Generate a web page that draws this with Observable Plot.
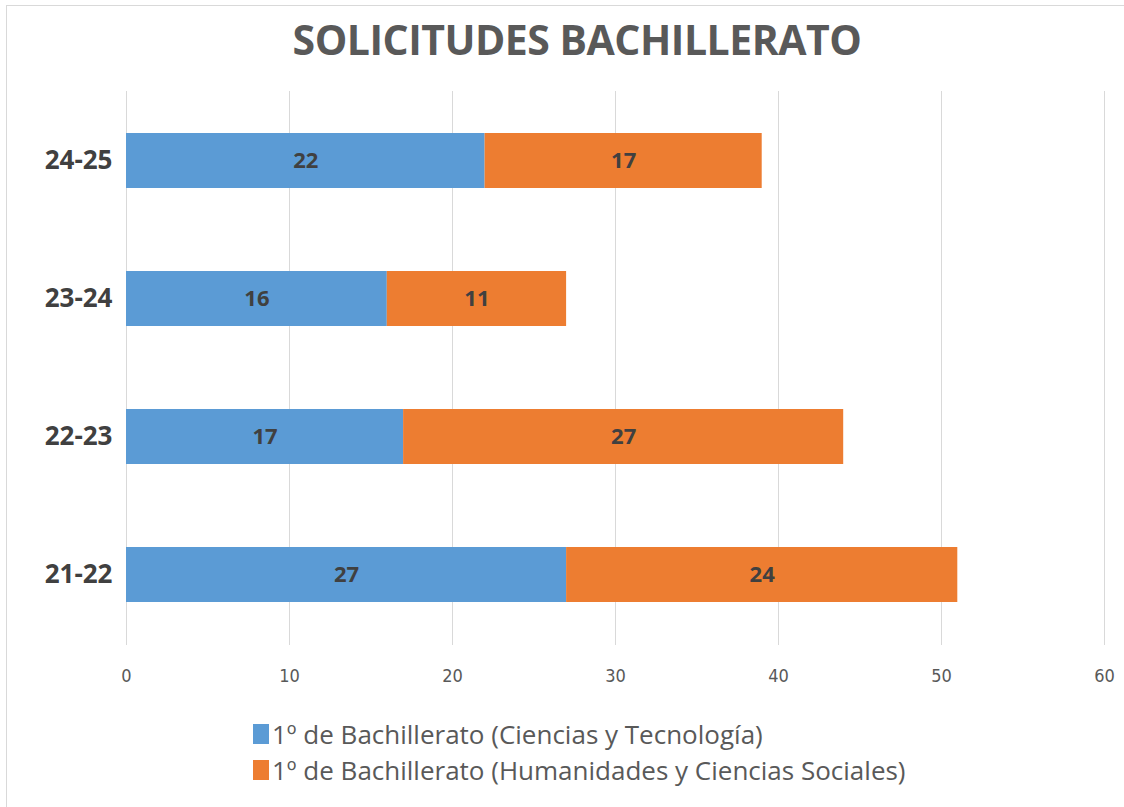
<!DOCTYPE html>
<html>
<head>
<meta charset="utf-8">
<script src="https://cdn.jsdelivr.net/npm/d3@7"></script>
<script src="https://cdn.jsdelivr.net/npm/@observablehq/plot@0.6"></script>
<style>
  html, body { margin: 0; padding: 0; background: #fff; }
  #wrap { position: relative; width: 1124px; height: 807px; overflow: hidden; background: #fff; }
  #frame { position: absolute; left: 6px; top: 5px; width: 1130px; height: 820px; border: 1px solid #d9d9d9; box-sizing: border-box; }
  #title { position: absolute; left: 0; width: 1154px; top: 11px; text-align: center;
    font-family: "Open Sans", "DejaVu Sans", sans-serif; font-weight: 700; font-size: 41px; color: #595959; letter-spacing: -0.5px; }
  #chart { position: absolute; left: 0; top: 0; }
  #legend { position: absolute; left: 253px; top: 716px; font-family: "Open Sans", "DejaVu Sans", sans-serif; font-size: 26px; color: #595959; }
  .item { display: flex; align-items: center; height: 36px; }
  .sw { width: 16px; height: 20px; margin-right: 3px; }
</style>
</head>
<body>
<div id="wrap">
  <div id="frame"></div>
  <div id="chart"></div>
  <div id="title"></div>
  <div id="legend"></div>
</div>
<script>
const titleText = "SOLICITUDES BACHILLERATO";
const years = ["24-25", "23-24", "22-23", "21-22"];
const seriesNames = ["1º de Bachillerato (Ciencias y Tecnología)", "1º de Bachillerato (Humanidades y Ciencias Sociales)"];
const ciencias = [22, 16, 17, 27];
const humanidades = [17, 11, 27, 24];
const xTicks = [0, 10, 20, 30, 40, 50, 60];
const colors = ["#5b9bd5", "#ed7d31"];

const data = [];
years.forEach((y, i) => data.push({year: y, series: seriesNames[0], value: ciencias[i]}));
years.forEach((y, i) => data.push({year: y, series: seriesNames[1], value: humanidades[i]}));

document.getElementById("title").textContent = titleText;

const chart = Plot.plot({
  width: 1124,
  height: 700,
  marginTop: 91,
  marginBottom: 55,
  marginLeft: 126,
  marginRight: 20,
  style: { background: "transparent", color: "#595959" },
  x: { domain: [0, 60], ticks: xTicks, grid: false },
  y: { domain: years, paddingInner: 0.6, paddingOuter: 0.3, label: null },
  color: { domain: seriesNames, range: colors },
  marks: [
    Plot.gridX(xTicks, { stroke: "#d9d9d9", strokeOpacity: 1, strokeWidth: 1 }),
    Plot.barX(data, Plot.stackX({ x: "value", y: "year", fill: "series", order: seriesNames })),
    Plot.text(data, Plot.stackX({ x: "value", y: "year", z: "series", order: seriesNames, text: d => String(d.value),
      fill: "#404040", fontSize: 22, fontWeight: 700, fontFamily: "Open Sans, DejaVu Sans, sans-serif" })),
    Plot.axisX({ ticks: xTicks, tickSize: 0, tickPadding: 24, label: null, fontSize: 18, fill: "#595959",
      fontFamily: "Liberation Sans Narrow, DejaVu Sans Condensed, sans-serif" }),
    Plot.axisY({ tickSize: 0, tickPadding: 14, label: null, fontSize: 26, fontWeight: 700, fill: "#404040",
      fontFamily: "Open Sans, DejaVu Sans, sans-serif" })
  ]
});
document.getElementById("chart").appendChild(chart);

const legend = document.getElementById("legend");
seriesNames.forEach((name, i) => {
  const it = document.createElement("div");
  it.className = "item";
  const sw = document.createElement("div");
  sw.className = "sw";
  sw.style.background = colors[i];
  const t = document.createElement("span");
  t.textContent = name;
  it.appendChild(sw); it.appendChild(t);
  legend.appendChild(it);
});
</script>
</body>
</html>
